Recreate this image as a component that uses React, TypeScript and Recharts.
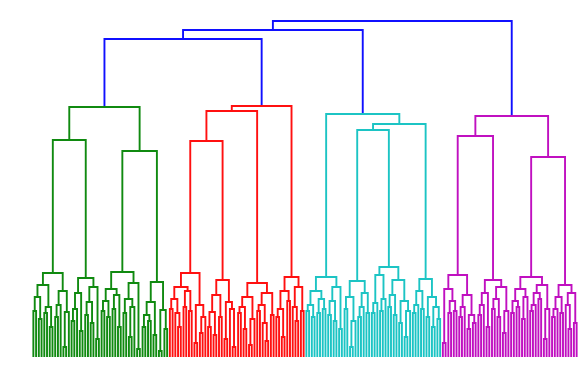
import React from 'react';
import { LineChart, Line, XAxis, YAxis } from 'recharts';

// a node is [mergeHeight, left, right]; 0 is a leaf
type Tree = 0 | string | [number, Tree, Tree];

// lower subtrees, heights in distance units
const G1: Tree = [84, [72, [60, [46, 0, 0], [38, 0, 0]], [50, [44, 0, 0], [30, 0, 0]]], [66, [52, [40, 0, 0], 0], [45, [10, 0, 0], 0]]];
const G2: Tree = [79, [64, [48, [36, 0, 0], 0], [26, 0, 0]], [70, [55, [42, 0, 0], [34, 0, 0]], [18, 0, 0]]];
const G3: Tree = [85, [68, [56, [46, 0, 0], [40, 0, 0]], [62, [48, 0, 0], [30, 0, 0]]], [74, [58, [44, 0, 0], [50, [20, 0, 0], 0]], [8, 0, 0]]];
const G4: Tree = [75, [55, [42, [30, 0, 0], [36, 0, 0]], [22, 0, 0]], [47, [6, 0, 0], [28, 0, 0]]];

const R1: Tree = [84, [70, [58, [48, 0, 0], [44, 0, [30, 0, 0]]], [66, [50, 0, 0], [46, 0, 0]]], [52, [14, 0, 0], [40, [24, 0, 0], 0]]];
const R2: Tree = [77, [62, [45, [30, 0, 0], [22, 0, 0]], [40, 0, 0]], [55, [18, 0, 0], [48, 0, [10, 0, 0]]]];
const R3: Tree = [74, [60, [50, [44, 0, 0], [28, 0, 0]], [38, [12, 0, 0], 0]], [64, [52, [46, 0, 0], [34, 0, [16, 0, 0]]], [42, 0, 0]]];
const R4: Tree = [80, [66, [48, [40, 0, 0], [20, 0, 0]], [56, 0, 0]], [70, [50, 0, [36, 0, 0]], [46, 0, 0]]];

const C1: Tree = [80, [66, [52, [46, 0, 0], [40, 0, 0]], [58, [44, 0, 0], [48, 0, 0]]], [70, [56, [42, 0, 0], [36, 0, 0]], [28, 0, 0]]];
const C2: Tree = [76, [60, [48, 0, 0], [36, [10, 0, 0], 0]], [64, [50, [40, 0, 0], 0], [44, 0, 0]]];
const C3: Tree = [82, [54, [44, 0, 0], 0], [58, [46, 0, 0], 0]];
const C4: Tree = [77, [62, [50, 0, 0], [42, 0, 0]], [56, [34, 0, 0], [46, [20, 0, 0], 0]]];
const C5: Tree = [78, [66, [52, [44, 0, 0], 0], [48, 0, 0]], [60, [40, 0, 0], [50, [30, 0, 0], [38, 0, 0]]]];

const M1: Tree = [82, [68, [14, 0, 0], [56, [44, 0, 0], [46, 0, 0]]], [62, [50, [40, 0, 0], 0], [42, [28, 0, 0], [34, 0, 0]]]];
const M2: Tree = [77, [64, [52, [42, 0, 0], 0], [30, 0, 0]], [70, [58, [48, 0, 0], [40, 0, 0]], [46, [24, 0, 0], 0]]];
const M3: Tree = [80, [68, [56, [44, 0, 0], [50, 0, 0]], [60, [38, 0, 0], 0]], [72, [64, [52, [46, 0, 0], 0], [58, 0, 0]], [48, [18, 0, 0], 0]]];
const M4: Tree = [72, [60, [48, [40, 0, 0], 0], [44, 0, 0]], [64, [52, 0, [28, 0, 0]], [34, 0, 0]]];

const clusterNames = ['g', 'r', 'c', 'm'];
const clusterColors = ['#108a10', '#ff1010', '#1cc4c4', '#c010c0'];
const clusterTrees: Tree[] = [
  [250, [217, G1, G2], [206, G3, G4]],
  [251, [246, [216, R1, R2], R3], R4],
  [243, C1, [233, [227, C2, [90, C3, C4]], C5]],
  [241, [221, M1, M2], [200, M3, M4]],
];
const aboveColor = '#1010ff';
const topTree: Tree = [336, [327, [318, 'g', 'r'], 'c'], 'm'];

type Pt = { x: number; y: number | null };

function buildLinks() {
  const segs: Record<string, Pt[]> = {};
  [aboveColor, ...clusterColors].forEach((c) => (segs[c] = []));
  let leaf = 0;
  const walk = (node: Tree, color: string): { x: number; h: number } => {
    if (node === 0) {
      const x = 5 + 10 * leaf;
      leaf++;
      return { x, h: 0 };
    }
    if (typeof node === 'string') {
      const i = clusterNames.indexOf(node);
      return walk(clusterTrees[i], clusterColors[i]);
    }
    const [h, a, b] = node;
    const l = walk(a, color);
    const r = walk(b, color);
    segs[color].push(
      { x: l.x, y: l.h },
      { x: l.x, y: h },
      { x: r.x, y: h },
      { x: r.x, y: r.h },
      { x: r.x, y: null }
    );
    return { x: (l.x + r.x) / 2, h };
  };
  walk(topTree, aboveColor);
  return { segs, leaves: leaf };
}

const { segs, leaves } = buildLinks();

export default function App() {
  return (
    <div style={{ width: 588, height: 368, background: '#fff' }}>
      <style>{'body{margin:0}'}</style>
      <LineChart width={588} height={368} margin={{ top: 21, right: 10, bottom: 11, left: 32 }}>
        <XAxis type="number" dataKey="x" domain={[0, leaves * 10]} hide />
        <YAxis type="number" domain={[0, 336]} hide />
        {Object.keys(segs).map((c) => (
          <Line
            key={c}
            data={segs[c]}
            dataKey="y"
            stroke={c}
            strokeWidth={1.9}
            dot={false}
            connectNulls={false}
            isAnimationActive={false}
            type="linear"
          />
        ))}
      </LineChart>
    </div>
  );
}
